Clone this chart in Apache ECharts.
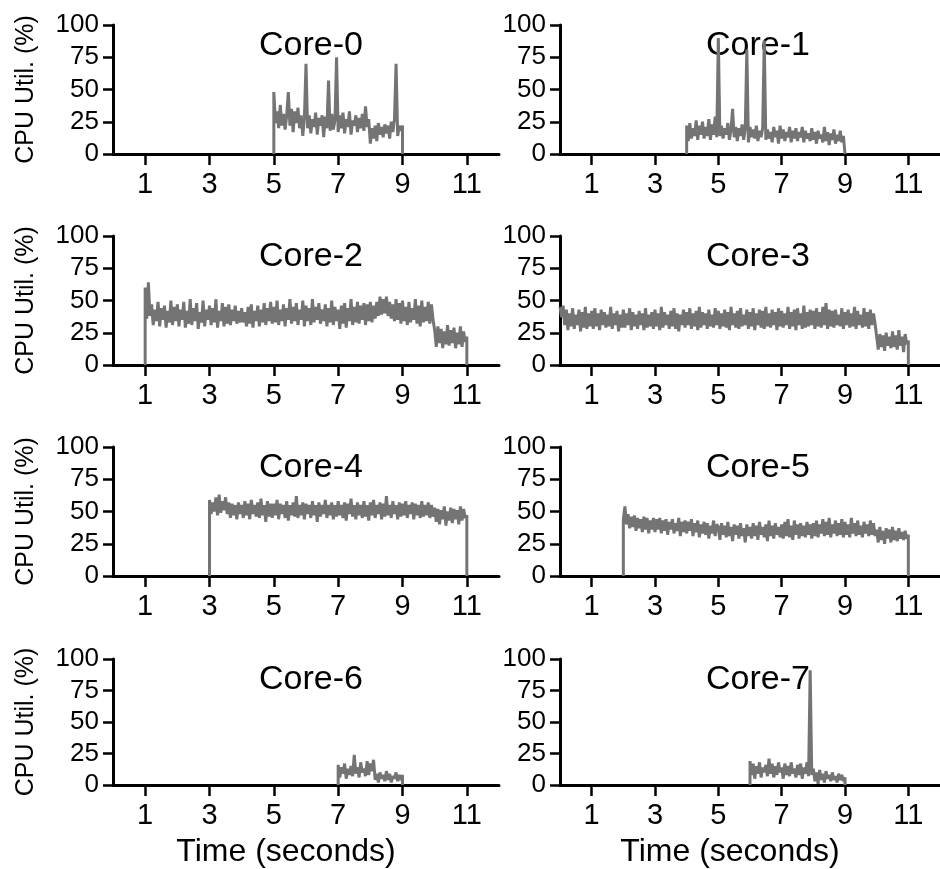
<!DOCTYPE html>
<html>
<head>
<meta charset="utf-8">
<script src="https://cdn.jsdelivr.net/npm/echarts@6.0.0/dist/echarts.min.js"></script>
<style>
  html, body { margin: 0; padding: 0; background: #fff; }
  #chart { width: 940px; height: 869px; }
</style>
</head>
<body>
<div id="chart"></div>
<script>
// ---- Data ----
const coreTitles = ['Core-0', 'Core-1', 'Core-2', 'Core-3', 'Core-4', 'Core-5', 'Core-6', 'Core-7'];
const coreStarts = [5, 4, 1, 0, 3, 2, 7, 6];   // seconds where each trace begins
const coreEnds   = [9, 9, 11, 11, 11, 11, 9, 9]; // seconds where each trace ends
const xTicks = [1, 3, 5, 7, 9, 11];
const xRange = [0, 12];
const yRange = [0, 100];
const yStep = 25;

const core0Values = [48,24,33,20,38,22,31,19,30,48, 22,35,17,33,24,36,20,30,14,28,
  70,20,30,16,27,21,32,15,28,22, 30,13,29,20,57,18,31,19,26,75,
  17,30,20,32,16,27,21,33,15,26, 22,30,17,28,20,31,18,37,21,27,
  8,20,12,22,10,24,15,21,13,23, 16,22,12,25,17,27,70,14,22,18, 22];

const core1Values = [22,10,24,12,20,14,26,11,22,15, 25,12,21,14,27,11,23,15,29,13,
  90,14,22,12,20,15,24,11,19,35, 13,21,10,20,14,23,11,19,81,9,
  21,13,19,12,22,10,18,13,20,88, 11,19,12,17,9,21,13,18,8,22,
  12,19,10,17,13,21,9,18,12,20, 10,17,13,21,9,18,12,16,10,20,
  11,17,8,18,12,15,9,21,10,17, 7,16,11,19,8,15,10,18,9,14, 13];

const core2Values = [60,36,64,38,47,31,43,34,49,30, 44,35,46,29,42,33,50,31,45,34,
  47,30,43,35,49,29,42,32,51,31, 44,34,48,28,41,33,50,30,43,35,
  46,31,44,33,51,29,42,34,48,30, 45,32,47,31,43,34,46,32,42,33,
  44,33,41,30,45,32,47,29,42,34, 46,30,43,33,48,31,44,34,49,32,
  45,33,50,31,43,34,47,30,44,35, 51,32,45,34,48,31,43,35,50,30,
  46,34,44,31,51,33,45,35,48,32, 43,34,47,30,44,33,50,31,45,34,
  43,28,46,32,48,29,44,34,51,31, 45,33,49,32,46,35,48,31,47,34,
  49,33,46,36,49,38,53,39,51,40, 53,38,49,36,47,34,51,35,48,32,
  50,34,45,31,49,33,44,35,51,32, 46,30,50,33,45,34,49,32,47,35,
  27,14,30,17,28,13,26,16,31,15, 27,17,29,13,25,16,30,14,26,18, 22];

const core3Values = [45,37,46,31,43,27,40,30,44,28, 39,31,43,26,41,29,45,28,40,30,
  42,28,44,30,40,27,43,31,41,29, 39,30,45,28,40,31,42,26,39,29,
  43,29,40,31,44,27,41,30,39,28, 42,31,40,27,44,29,39,30,41,28,
  43,30,40,27,45,29,41,31,39,28, 42,30,44,28,40,26,39,31,43,29,
  41,31,44,28,40,30,42,27,45,29, 41,31,40,28,43,30,39,29,44,31,
  42,28,40,30,43,29,41,27,45,31, 40,29,42,28,44,30,39,31,43,28,
  41,30,44,27,40,31,43,29,42,28, 45,30,40,29,43,31,41,27,44,30,
  42,29,40,31,45,28,41,30,43,27, 44,31,40,28,46,29,41,30,43,31,
  42,28,44,30,41,29,45,31,48,28, 43,30,42,29,43,31,39,30,44,28,
  41,31,43,29,40,30,45,28,42,31, 39,29,44,30,41,28,43,31,40,32,
  22,12,24,14,23,11,25,15,22,13, 26,14,23,12,27,15,22,10,24,16, 19];

const core4Values = [59,48,57,50,61,47,63,49,58,51, 61,48,57,45,56,47,55,44,57,48,
  55,45,58,47,56,44,59,48,55,46, 57,45,60,47,55,42,58,46,56,45,
  56,47,59,44,56,48,55,45,58,43, 55,47,57,46,62,45,55,47,57,44,
  56,48,55,45,58,47,55,42,57,46, 55,48,59,45,55,47,57,44,55,46,
  58,47,55,45,57,43,56,48,60,46, 55,44,57,47,55,45,58,46,55,43,
  57,47,59,45,55,48,57,44,56,46, 62,47,55,45,58,48,55,44,57,46,
  56,47,58,45,55,48,57,44,56,47, 55,45,58,46,55,47,57,45,55,46,
  53,42,52,40,51,44,54,39,50,43, 53,41,52,44,51,40,54,43,52,45, 47];

const core5Values = [44,54,40,48,37,46,38,47,35,45, 37,44,34,46,36,45,33,43,36,45,
  34,44,36,45,33,43,35,44,32,42, 36,44,33,41,35,45,31,42,34,43,
  33,42,35,44,31,41,34,43,30,40, 33,42,32,41,29,39,33,43,31,40,
  38,28,41,32,39,30,42,31,38,27, 40,32,39,29,41,31,37,26,40,31,
  38,29,41,31,39,28,42,32,38,30, 40,27,43,31,39,29,41,32,38,30,
  40,29,42,31,44,30,39,28,43,32, 40,29,41,31,39,30,42,32,40,29,
  41,31,43,30,40,33,44,31,42,32, 45,30,40,33,43,31,41,32,44,30,
  42,32,40,30,45,33,41,31,43,32, 39,30,42,33,40,31,43,32,41,31,
  36,26,38,28,35,25,37,29,36,26, 38,28,35,27,37,29,34,28,35,29, 32];

const core6Values = [16,6,14,9,17,5,13,8,15,7, 24,9,14,6,18,10,13,7,19,8,
  17,11,20,4,9,2,10,5,8,3, 11,4,9,2,7,5,10,3,8,4, 8];

const core7Values = [19,8,17,5,15,9,18,6,14,10, 16,7,21,9,17,6,15,8,18,10,
  14,5,17,8,15,7,18,9,13,6, 16,8,17,5,14,9,18,7,91,8,
  13,3,10,1,12,4,9,2,11,5, 8,3,10,4,7,2,9,4,8,3, 6];

const coreValues = [core0Values, core1Values, core2Values, core3Values,
                    core4Values, core5Values, core6Values, core7Values];

// ---- Layout ----
const colLeft = [113, 560];
const gridWidth = 386;
const rowTop = [25, 236, 447, 659];
const gridHeight = 129;
const FONT = 'Liberation Sans, Arial, Helvetica, sans-serif';
const lineColor = '#747474';

const grids = [], xAxes = [], yAxes = [], series = [], titles = [];

for (let k = 0; k < 8; k++) {
  const row = Math.floor(k / 2), col = k % 2;
  const left = colLeft[col], top = rowTop[row];
  grids.push({ left: left, top: top, width: gridWidth, height: gridHeight });

  const isBottom = row === 3;
  xAxes.push({
    gridIndex: k, type: 'value', min: xRange[0], max: xRange[1],
    axisLine: { onZero: false, lineStyle: { color: '#000', width: 3 } },
    axisTick: { show: true, customValues: xTicks, length: 11, lineStyle: { color: '#000', width: 2.5 } },
    axisLabel: { customValues: xTicks, color: '#000', fontSize: 29, fontFamily: FONT, margin: 16 },
    splitLine: { show: false },
    name: isBottom ? 'Time (seconds)' : '',
    nameLocation: 'middle', nameGap: 51,
    nameTextStyle: { color: '#000', fontSize: 32, fontFamily: FONT, padding: [0, 40, 0, 0] }
  });

  yAxes.push({
    gridIndex: k, type: 'value', min: yRange[0], max: yRange[1], interval: yStep,
    axisLine: { show: true, lineStyle: { color: '#000', width: 3 } },
    axisTick: { show: true, length: 10, lineStyle: { color: '#000', width: 2.5 } },
    axisLabel: { color: '#000', fontSize: 26, fontFamily: FONT, margin: 14 },
    splitLine: { show: false },
    name: col === 0 ? 'CPU Util. (%)' : '',
    nameLocation: 'middle', nameGap: 74, nameRotate: 90,
    nameTextStyle: { color: '#000', fontSize: 25, fontFamily: FONT }
  });

  const vals = coreValues[k];
  const s = coreStarts[k], e = coreEnds[k];
  const n = vals.length;
  const data = [];
  if (s > xRange[0]) data.push([s, 0]);
  for (let i = 0; i < n; i++) {
    data.push([s + i * (e - s) / (n - 1), vals[i]]);
  }
  data.push([e, 0]);

  series.push({
    type: 'line', xAxisIndex: k, yAxisIndex: k, data: data,
    showSymbol: false, symbol: 'none', animation: false,
    lineStyle: { color: lineColor, width: 3, join: 'miter', miterLimit: 2 }, z: 10
  });

  titles.push({
    text: coreTitles[k], left: left + gridWidth / 2, top: top - 1, textAlign: 'center', z: 1,
    textStyle: { color: '#000', fontSize: 34, fontWeight: 'normal', fontFamily: FONT }
  });
}

const chart = echarts.init(document.getElementById('chart'), null, { renderer: 'canvas' });
chart.setOption({
  backgroundColor: '#ffffff',
  animation: false,
  title: titles,
  grid: grids,
  xAxis: xAxes,
  yAxis: yAxes,
  series: series
});
</script>
</body>
</html>
